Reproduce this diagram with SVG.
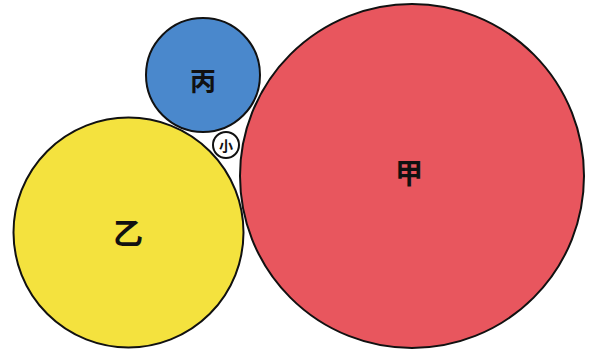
<svg xmlns="http://www.w3.org/2000/svg" width="600" height="355" viewBox="0 0 600 355">
<style>
.c{stroke:#111;stroke-width:2}
.t{font-family:"Noto Sans CJK SC","Noto Sans CJK JP",sans-serif;font-weight:bold;fill:#111;text-anchor:middle;dominant-baseline:central}
</style>
<rect width="600" height="355" fill="#ffffff"/>
<g id="jia"><circle class="c" cx="412" cy="176" r="172" fill="#e8565e"/><text class="t" x="409" y="172" font-size="28">甲</text></g>
<g id="yi"><circle class="c" cx="128.5" cy="232.5" r="115" fill="#f4e23e"/><text class="t" x="128" y="231" font-size="30">乙</text></g>
<g id="bing"><circle class="c" cx="203" cy="75" r="57" fill="#4a88cc"/><text class="t" x="203" y="79" font-size="26">丙</text></g>
<g id="xiao"><circle class="c" cx="226" cy="145" r="13" fill="#ffffff"/><text class="t" x="226" y="145" font-size="14">小</text></g>
<g id="connectors"></g>
</svg>
